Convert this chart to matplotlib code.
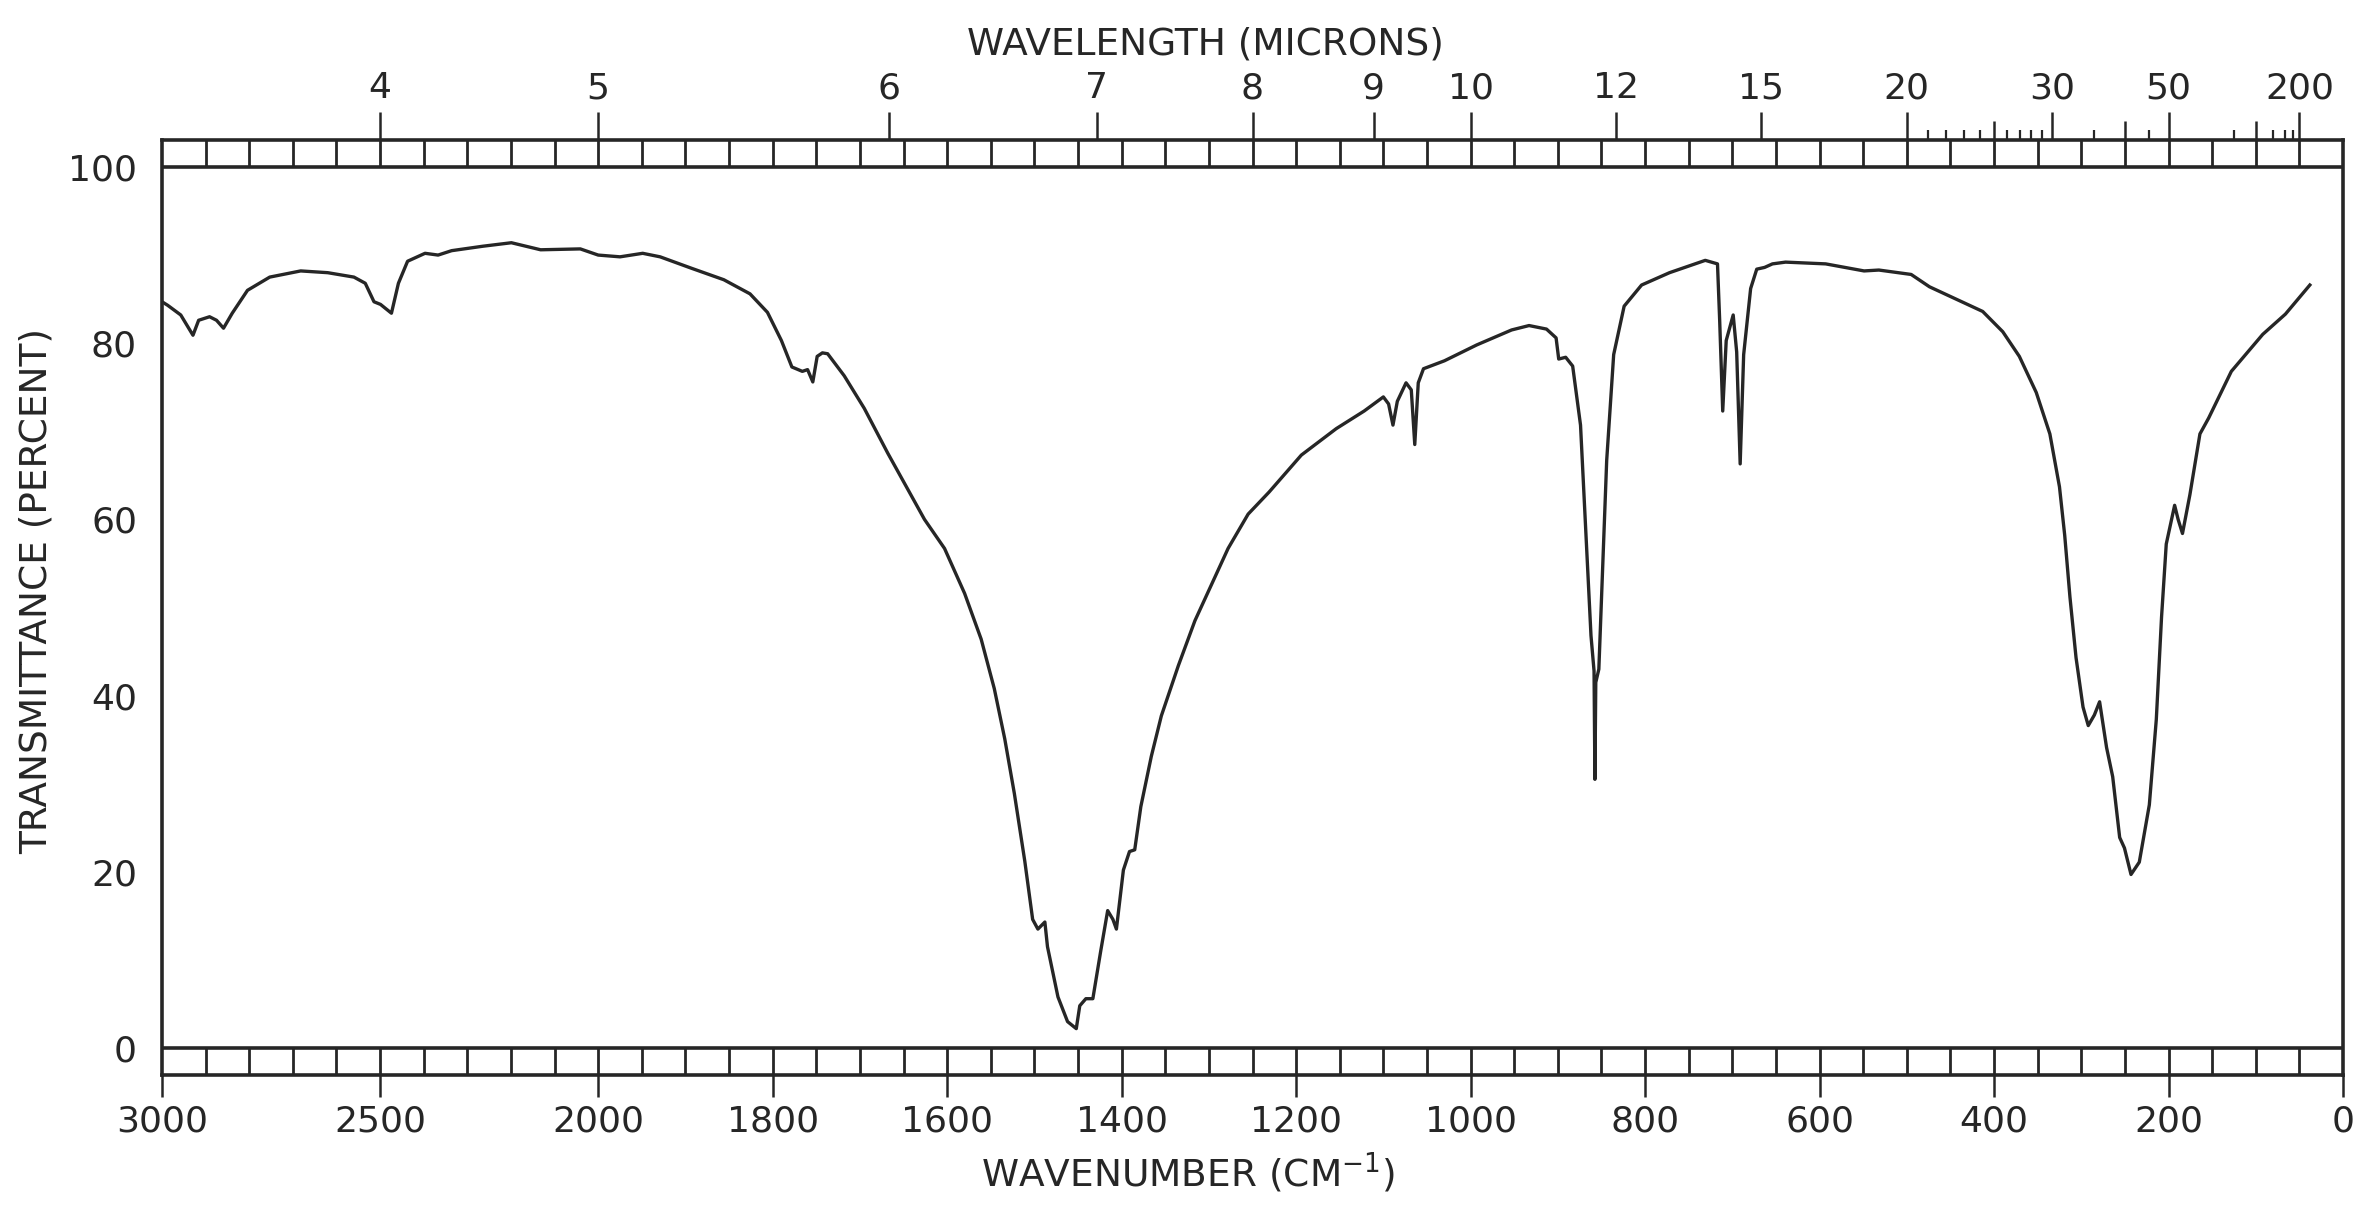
import numpy as np
import matplotlib
matplotlib.use("Agg")
import matplotlib.pyplot as plt

# IR spectrum: wavenumber (cm-1) and transmittance (%)
wavenumber = [3000, 2987, 2957, 2929, 2916, 2891, 2875, 2859, 2839, 2804,
              2753, 2682, 2620, 2560, 2534, 2514, 2499, 2474, 2458, 2437,
              2397, 2367, 2336, 2265, 2199, 2132, 2041, 2000, 1975, 1949,
              1929, 1893, 1856, 1826, 1806, 1790, 1778, 1766, 1760, 1754,
              1749, 1743, 1737, 1718, 1695, 1668, 1645, 1626, 1603, 1580,
              1561, 1546, 1534, 1523, 1511, 1502, 1496, 1488, 1485, 1473,
              1462, 1452, 1448, 1441, 1433, 1424, 1416, 1410, 1406, 1398,
              1391, 1385, 1378, 1366, 1354.5, 1335, 1316, 1297, 1278, 1255,
              1231, 1194, 1154, 1122, 1100, 1094, 1089, 1084, 1074, 1068,
              1064, 1060, 1054, 1030, 993, 953, 933, 913, 902, 899,
              891, 883, 874, 868, 862, 860, 858.5, 857.5, 856.5, 853,
              850, 844, 836, 824, 804, 772, 731, 717, 714.5, 711,
              707, 699, 695, 691, 687, 679, 672, 663, 654, 639,
              593, 549, 532, 495, 474, 443.5, 413, 390, 371, 351.6,
              336, 325, 319, 313, 306, 298, 292, 285, 279, 271,
              264, 256, 250.5, 243, 233.5, 222, 214, 208, 202.6, 193,
              189, 184, 175.5, 164, 154, 128, 92, 66, 38]
transmittance = [84.7, 84.3, 83.2, 80.9, 82.6, 83.0, 82.6, 81.7, 83.4, 86.0,
                 87.5, 88.2, 88.0, 87.5, 86.8, 84.7, 84.4, 83.4, 86.8, 89.3,
                 90.2, 90.0, 90.5, 91.0, 91.4, 90.6, 90.7, 90.0, 89.8, 90.2,
                 89.8, 88.5, 87.2, 85.6, 83.5, 80.3, 77.3, 76.8, 77.0, 75.6,
                 78.5, 78.9, 78.8, 76.3, 72.6, 67.5, 63.4, 60.0, 56.7, 51.6,
                 46.4, 40.8, 35.1, 28.9, 21.2, 14.6, 13.5, 14.3, 11.5, 5.8,
                 3.0, 2.2, 4.8, 5.6, 5.6, 11.0, 15.6, 14.6, 13.5, 20.2,
                 22.3, 22.5, 27.4, 33.1, 37.7, 43.4, 48.5, 52.6, 56.7, 60.6,
                 63.1, 67.3, 70.3, 72.3, 73.9, 73.1, 70.7, 73.4, 75.5, 74.7,
                 68.5, 75.5, 77.1, 78.0, 79.8, 81.5, 82.0, 81.6, 80.6, 78.2,
                 78.4, 77.4, 70.7, 58.7, 46.8, 44.5, 42.8, 30.5, 41.5, 43.0,
                 50.8, 66.7, 78.7, 84.2, 86.6, 88.0, 89.4, 89.0, 82.6, 72.3,
                 80.3, 83.2, 79.0, 66.3, 78.7, 86.2, 88.4, 88.6, 89.0, 89.2,
                 89.0, 88.2, 88.3, 87.8, 86.4, 85.0, 83.6, 81.3, 78.5, 74.4,
                 69.7, 63.7, 58.2, 51.2, 44.3, 38.7, 36.6, 37.8, 39.3, 34.1,
                 30.8, 23.9, 22.7, 19.7, 21.1, 27.6, 37.3, 48.9, 57.2, 61.6,
                 60.0, 58.4, 62.8, 69.7, 71.5, 76.8, 81.0, 83.3, 86.6]

bottom_ticks = [3000, 2500, 2000, 1800, 1600, 1400, 1200, 1000, 800, 600, 400, 200, 0]
micron_labels = [4, 5, 6, 7, 8, 9, 10, 12, 15, 20, 30, 50, 200]
micron_mid = [25, 40, 100]
micron_small = [21, 22, 23, 24, 26, 27, 28, 29, 35, 45, 80, 125, 150, 175]
y_labels = [0, 20, 40, 60, 80, 100]


# chart paper: 3000-2000 cm-1 at half the scale of 2000-0
def fwd(v):
    v = np.asarray(v, dtype=float)
    return np.where(v > 2000, 2000 + (v - 2000) / 2, v)


def inv(p):
    p = np.asarray(p, dtype=float)
    return np.where(p > 2000, 2000 + (p - 2000) * 2, p)


ink = "#262626"
BAR = 3.06  # height of the boxed strips above 100 and below 0

fig = plt.figure(figsize=(23.65, 12.09), dpi=100)
fig.patch.set_facecolor("white")
ax = fig.add_axes([162 / 2365, 134 / 1209, 2181 / 2365, 935 / 1209])
ax.set_xscale("function", functions=(fwd, inv))
ax.set_xlim(3000, 0)
ax.set_ylim(-BAR, 100 + BAR)

ax.plot(wavenumber, transmittance, color=ink, lw=2.4, solid_joinstyle="round")

# boxed strips at top and bottom
div = np.concatenate([np.arange(2900, 2000, -100), np.arange(2000, 0, -50)])
for lo, hi in [(100, 100 + BAR), (-BAR, 0)]:
    ax.vlines(div, lo, hi, color=ink, lw=2.0)
ax.axhline(100, color=ink, lw=2.6)
ax.axhline(0, color=ink, lw=2.6)

for s in ax.spines.values():
    s.set_linewidth(2.6)
    s.set_color(ink)

ax.set_xticks(bottom_ticks)
ax.set_xticklabels([str(t) for t in bottom_ticks])
ax.tick_params(axis="x", direction="out", length=16, width=1.8, pad=5,
               labelsize=26, colors=ink)

ax.set_yticks(y_labels)
ax.tick_params(axis="y", which="major", length=0, pad=18, labelsize=26, colors=ink)
ax.set_yticks([20, 40, 60, 80], minor=True)
ax.tick_params(axis="y", which="minor", direction="in", length=18, width=1.8,
               left=True, right=True, colors=ink)

# wavelength scale on top
ax2 = ax.twiny()
ax2.set_xscale("function", functions=(fwd, inv))
ax2.set_xlim(3000, 0)
for s in ax2.spines.values():
    s.set_visible(False)
ax2.set_xticks([1e4 / l for l in micron_labels + micron_mid])
ax2.set_xticklabels([str(l) for l in micron_labels] + [""] * len(micron_mid))
ax2.set_xticks([1e4 / l for l in micron_small], minor=True)
ax2.tick_params(axis="x", which="major", direction="out", length=20, width=1.8,
                pad=5, labelsize=26, colors=ink)
ax2.tick_params(axis="x", which="minor", direction="out", length=7, width=1.6,
                colors=ink)
for tick in ax2.xaxis.get_major_ticks()[len(micron_labels):]:
    tick.tick2line.set_markersize(14)

fig.text(1205 / 2365, 1 - 45 / 1209, "WAVELENGTH (MICRONS)", ha="center",
         va="center", fontsize=27, color=ink)
fig.text(1188 / 2365, 1 - 1173 / 1209, "WAVENUMBER (CM$^{-1}$)", ha="center",
         va="center", fontsize=27, color=ink)
fig.text(37 / 2365, 1 - 591 / 1209, "TRANSMITTANCE (PERCENT)", ha="center",
         va="center", rotation=90, fontsize=27, color=ink)

fig.savefig("out.png", dpi=100)
